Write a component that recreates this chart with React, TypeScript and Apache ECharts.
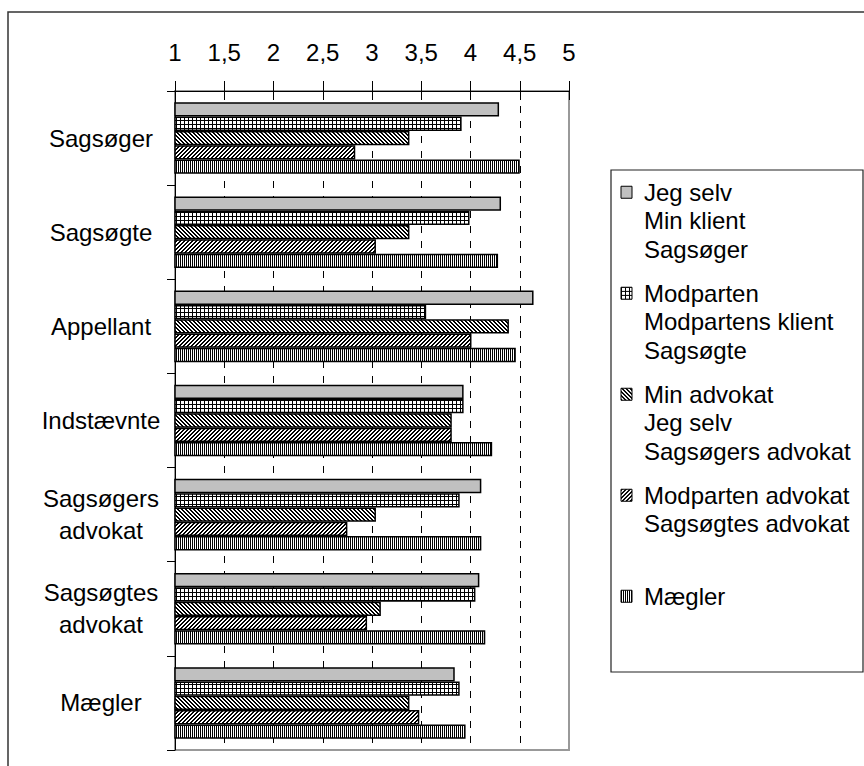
import React, { useEffect, useRef } from 'react';
import * as echarts from 'echarts';

const categories = ['Sagsøger', 'Sagsøgte', 'Appellant', 'Indstævnte', 'Sagsøgers\nadvokat', 'Sagsøgtes\nadvokat', 'Mægler'];
const seriesNames = ['Jeg selv', 'Modparten', 'Min advokat', 'Modparten advokat', 'Mægler'];
const legendLines: Record<string, string[]> = {
  'Jeg selv': ['Jeg selv', 'Min klient', 'Sagsøger'],
  'Modparten': ['Modparten', 'Modpartens klient', 'Sagsøgte'],
  'Min advokat': ['Min advokat', 'Jeg selv', 'Sagsøgers advokat'],
  'Modparten advokat': ['Modparten advokat', 'Sagsøgtes advokat', ''],
  'Mægler': ['Mægler', '', ''],
};
const jegSelv = [4.29, 4.31, 4.64, 3.93, 4.11, 4.09, 3.84];
const modparten = [3.91, 3.99, 3.55, 3.93, 3.89, 4.05, 3.89];
const minAdvokat = [3.38, 3.38, 4.39, 3.81, 3.04, 3.09, 3.38];
const modpartenAdvokat = [2.83, 3.04, 4.01, 3.81, 2.75, 2.95, 3.48];
const maegler = [4.5, 4.28, 4.46, 4.22, 4.11, 4.15, 3.95];
const seriesValues = [jegSelv, modparten, minAdvokat, modpartenAdvokat, maegler];

const FONT = 'Liberation Sans, Arial, sans-serif';
const LEGEND_LH = 28.7;

function makeTile(size: number, fn: (x: number, y: number) => boolean) {
  const c = document.createElement('canvas');
  c.width = size;
  c.height = size;
  const ctx = c.getContext('2d')!;
  ctx.fillStyle = '#ffffff';
  ctx.fillRect(0, 0, size, size);
  ctx.fillStyle = '#000000';
  for (let y = 0; y < size; y++) {
    for (let x = 0; x < size; x++) {
      if (fn(x, y)) ctx.fillRect(x, y, 1, 1);
    }
  }
  return { image: c, repeat: 'repeat' } as any;
}

export default function App() {
  const ref = useRef<HTMLDivElement>(null);
  useEffect(() => {
    document.body.style.margin = '0';
    const chart = echarts.init(ref.current!, null, { renderer: 'svg' });
    const fills = [
      '#c0c0c0',
      makeTile(8, (x, y) => x % 4 === 0 || y % 4 === 0),
      makeTile(8, (x, y) => ((x - y + 16) % 4) < 2),
      makeTile(8, (x, y) => ((x + y) % 4) < 2),
      makeTile(8, (x) => x % 2 === 0),
    ];
    const itemH = LEGEND_LH * 3;
    const sqTop = itemH / 2 - LEGEND_LH - 6;
    const iconPath = `path://M0,0L0,0M0,${sqTop}L11,${sqTop}L11,${sqTop + 12}L0,${sqTop + 12}ZM0,${itemH}L0,${itemH}`;
    chart.setOption({
      animation: false,
      backgroundColor: '#ffffff',
      grid: { left: 175, top: 91, width: 394, height: 659, show: true, borderColor: '#999', borderWidth: 2, backgroundColor: 'transparent' },
      xAxis: [
        {
          type: 'value', position: 'top', min: 1, max: 5, interval: 0.5,
          axisLine: { show: true, lineStyle: { color: '#000', width: 1 } },
          axisTick: { show: true, inside: false, length: 10, lineStyle: { color: '#000' } },
          axisLabel: { color: '#000', fontFamily: FONT, fontSize: 24, margin: 27, formatter: (v: number) => String(v).replace('.', ',') },
          splitLine: { show: true, showMinLine: false, showMaxLine: false, lineStyle: { color: '#000', width: 1, type: [7, 8] } },
        },
        {
          type: 'value', position: 'top', min: 1, max: 5, interval: 0.5,
          axisLine: { show: false },
          axisTick: { show: true, inside: true, length: 9, lineStyle: { color: '#000' } },
          axisLabel: { show: false },
          splitLine: { show: false },
        },
      ],
      yAxis: {
        type: 'category', inverse: true, data: categories,
        axisLine: { show: true, lineStyle: { color: '#000', width: 1 } },
        axisTick: { show: true, inside: false, length: 8, lineStyle: { color: '#000' } },
        axisLabel: { color: '#000', fontFamily: FONT, fontSize: 24, lineHeight: 32, align: 'center', margin: 74 },
      },
      legend: {
        orient: 'vertical', left: 620.5, top: 177.4, padding: 0, itemGap: 100 - itemH,
        icon: iconPath, itemWidth: 11, itemHeight: itemH,
        itemStyle: { borderColor: '#000', borderWidth: 1 },
        data: seriesNames,
        formatter: (name: string) => legendLines[name].join('\n'),
        textStyle: { color: '#000', fontFamily: FONT, fontSize: 24, lineHeight: LEGEND_LH, padding: [0, 0, 0, 7] },
      },
      graphic: [
        { type: 'rect', shape: { x: 8, y: 12, width: 900, height: 800 }, style: { fill: 'none', stroke: '#333', lineWidth: 1.5 }, silent: true },
        { type: 'rect', shape: { x: 611, y: 170, width: 252, height: 502 }, style: { fill: 'none', stroke: '#222', lineWidth: 1.2 }, silent: true },
      ],
      series: seriesNames.map((name, i) => ({
        name, type: 'bar', xAxisIndex: 0, data: seriesValues[i],
        barGap: '0%', barCategoryGap: '24%', clip: true,
        itemStyle: { color: fills[i], borderColor: '#000', borderWidth: 1.5 },
      })),
    });
    return () => chart.dispose();
  }, []);
  return <div ref={ref} style={{ width: 864, height: 766 }} />;
}
